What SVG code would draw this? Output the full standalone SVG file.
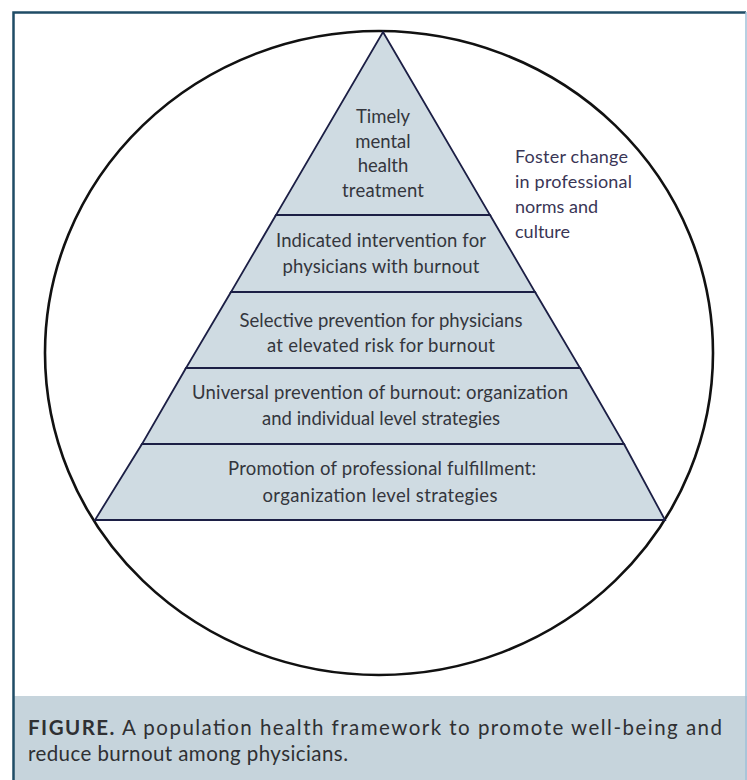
<svg xmlns="http://www.w3.org/2000/svg" width="747" height="780" viewBox="0 0 747 780">
<style>
.t{font-family:Lato,"Open Sans","Liberation Sans",sans-serif;font-size:18.5px;fill:#34363d;text-anchor:middle}
.f{font-family:Lato,"Open Sans","Liberation Sans",sans-serif;font-size:18px;fill:#3a3656}
.c{font-family:Lato,"Open Sans","Liberation Sans",sans-serif;font-size:20.5px;fill:#2f3033}
.band{fill:#cfdbe2;stroke:#1c1f45;stroke-width:1.8;stroke-linejoin:miter}
</style>
<rect x="0" y="0" width="747" height="780" fill="#ffffff"/>
<rect x="14" y="696" width="733" height="84" fill="#c6d4dc"/>
<path d="M13.5 780 V12.5 H746" fill="none" stroke="#1f4c66" stroke-width="2.5"/>
<line x1="746" y1="12" x2="746" y2="780" stroke="#9fc0d8" stroke-width="1.5"/>
<ellipse cx="379" cy="353" rx="334" ry="322" fill="none" stroke="#111" stroke-width="2.6"/>
<g id="level5"><polygon class="band" points="142,444 624,444 665,520 95,520"/>
<text class="t" x="382" y="475" textLength="308">Promotion of professional fulfillment:</text>
<text class="t" x="380" y="502" textLength="235">organization level strategies</text></g>
<g id="level4"><polygon class="band" points="186,368 580,368 624,444 142,444"/>
<text class="t" x="380" y="399" textLength="376">Universal prevention of burnout: organization</text>
<text class="t" x="381" y="425" textLength="238">and individual level strategies</text></g>
<g id="level3"><polygon class="band" points="231,292 535,292 580,368 186,368"/>
<text class="t" x="381" y="327" textLength="283">Selective prevention for physicians</text>
<text class="t" x="381" y="352" textLength="228">at elevated risk for burnout</text></g>
<g id="level2"><polygon class="band" points="276,215 490,215 535,292 231,292"/>
<text class="t" x="381" y="247" textLength="210">Indicated intervention for</text>
<text class="t" x="381" y="273" textLength="197">physicians with burnout</text></g>
<g id="level1"><polygon class="band" points="383,32 490,215 276,215"/>
<text class="t" x="383" y="123">Timely</text>
<text class="t" x="383" y="148">mental</text>
<text class="t" x="383" y="172">health</text>
<text class="t" x="383" y="197" textLength="82">treatment</text></g>
<g id="foster">
<text class="f" x="515" y="163" textLength="113">Foster change</text>
<text class="f" x="515" y="188" textLength="117">in professional</text>
<text class="f" x="515" y="213">norms and</text>
<text class="f" x="515" y="238">culture</text></g>
<g id="caption">
<text class="c" x="28" y="735" textLength="694"><tspan font-weight="bold">FIGURE.</tspan> A population health framework to promote well-being and</text>
<text class="c" x="28" y="761" textLength="320">reduce burnout among physicians.</text></g>
</svg>
